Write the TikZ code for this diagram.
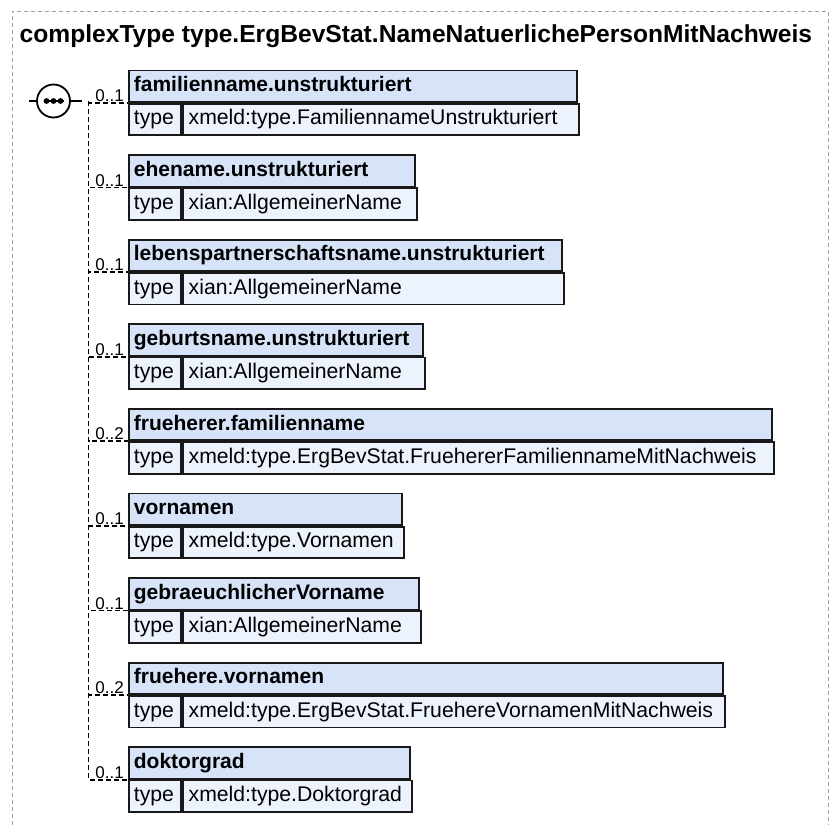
\documentclass[tikz,border=0pt]{standalone}
\usepackage{fontspec}
\setmainfont{Liberation Sans}
\usetikzlibrary{positioning}
\definecolor{kopfblau}{RGB}{214,227,248}
\definecolor{zeilblau}{RGB}{237,243,252}
\tikzset{
  kopfbox/.style={draw=black!90, line width=1.8pt, fill=kopfblau, anchor=north west,
    minimum height=31.5pt, inner xsep=5pt, inner ysep=0pt, align=left,
    text height=15pt, text depth=4pt,
    font=\fontsize{21}{24}\selectfont\bfseries},
  zeilbox/.style={draw=black!90, line width=1.8pt, fill=zeilblau, anchor=north west,
    minimum height=31.5pt, inner xsep=5pt, inner ysep=0pt, align=left,
    text height=15pt, text depth=4pt,
    font=\fontsize{21.2}{24}\selectfont},
  verbind/.style={line width=1.8pt, dash pattern=on 5pt off 3pt},
  mult/.style={anchor=south east, inner sep=1pt, font=\fontsize{17}{19}\selectfont}
}
\begin{document}
\begin{tikzpicture}[x=1pt,y=-1pt]
\useasboundingbox (0,0) rectangle (830,825);
% Rahmen
\draw[gray!75, line width=1pt, dash pattern=on 4pt off 3pt] (12,825) -- (12,11) -- (828.5,11) -- (828.5,825);
\node[anchor=base west, inner sep=0pt, font=\fontsize{24.6}{28}\selectfont\bfseries] (titel) at (19.5,42)
  {complexType type.ErgBevStat.NameNatuerlichePersonMitNachweis};

% Sequenz-Symbol
\node[circle, draw, line width=1.8pt, fill=white, minimum size=33pt, inner sep=0pt] (seq) at (53.5,101) {};
\draw[line width=1.8pt] (seq.west) -- ++(-7,0);
\draw[line width=1.8pt] (seq.east) -- ++(11,0);
\draw[line width=1.8pt] ([xshift=-10pt]seq.center) -- ([xshift=10pt]seq.center);
\foreach \dx in {-7,0,7}
  \fill ([xshift=\dx pt]seq.center) circle (2.9pt);
\coordinate (spine) at (88.5,101);

% Elemente
\foreach \k/\t/\r/\m [count=\i] in {
  familienname.unstrukturiert/xmeld:type.FamiliennameUnstrukturiert/576/0..1,
  ehename.unstrukturiert/xian:AllgemeinerName/414/0..1,
  lebenspartnerschaftsname.unstrukturiert/xian:AllgemeinerName/561/0..1,
  geburtsname.unstrukturiert/xian:AllgemeinerName/422/0..1,
  frueherer.familienname/xmeld:type.ErgBevStat.FruehererFamiliennameMitNachweis/771/0..2,
  vornamen/xmeld:type.Vornamen/401/0..1,
  gebraeuchlicherVorname/xian:AllgemeinerName/418/0..1,
  fruehere.vornamen/xmeld:type.ErgBevStat.FruehereVornamenMitNachweis/722/0..2,
  doktorgrad/xmeld:type.Doktorgrad/409/0..1}
{
  \pgfmathsetmacro\y{69.5+84.6*(\i-1)}
  \pgfmathsetmacro\kw{\r-138}
  \pgfmathsetmacro\vw{\r-192}
  \node[kopfbox, text width=\kw pt] (h\i) at (128,\y) {\mbox{\k}};
  \node[zeilbox, text width=42pt] (t\i) at (h\i.south west) {type};
  \node[zeilbox, inner xsep=6pt, text width=\vw pt] (v\i) at (t\i.north east) {\mbox{\t}};
  \draw[verbind] (spine) |- (h\i.south west);
  \node[mult] (m\i) at ([xshift=-3pt]h\i.south west) {\m};
}
\end{tikzpicture}
\end{document}
